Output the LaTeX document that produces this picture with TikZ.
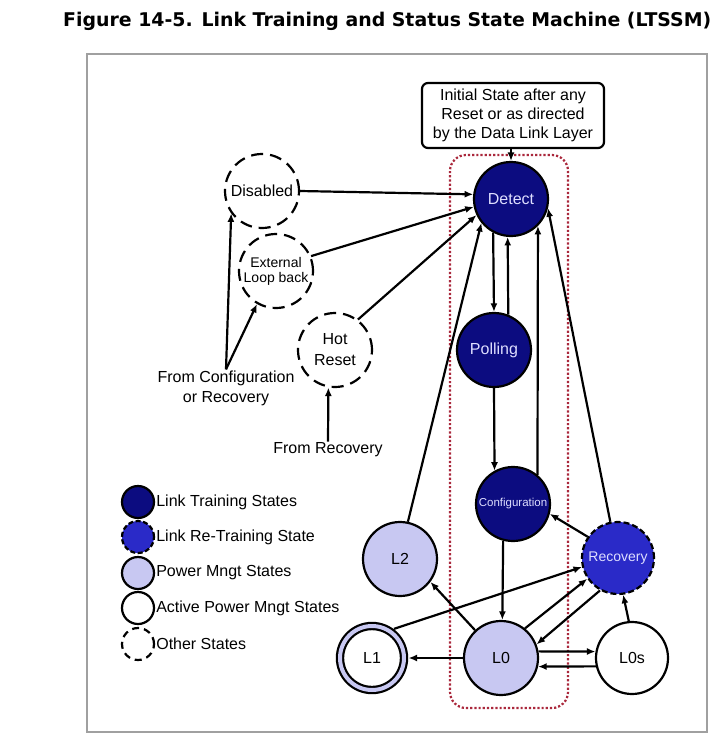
\documentclass[tikz,border=0pt]{standalone}
\usepackage{fontspec}
\setmainfont{Liberation Sans}
\newfontfamily\titlefont{DejaVu Sans}
\usetikzlibrary{arrows.meta}

\definecolor{trainblue}{RGB}{12,12,128}
\definecolor{retrainblue}{RGB}{42,42,200}
\definecolor{pmlav}{RGB}{200,200,242}
\definecolor{statetext}{RGB}{222,222,255}
\definecolor{boxred}{RGB}{170,40,60}
\definecolor{framegray}{RGB}{160,160,160}

\begin{document}
\begin{tikzpicture}[x=1pt, y=-1pt, >={Latex[length=8.5pt,width=7pt]},
    state/.style={circle, draw=black, line width=2.2pt, minimum size=74pt,
        inner sep=0pt, align=center, font=\fontsize{16}{19}\selectfont},
    train/.style={state, fill=trainblue, text=statetext},
    retrain/.style={state, fill=retrainblue, text=statetext, dash pattern=on 6pt off 3pt},
    pm/.style={state, fill=pmlav},
    active/.style={state, fill=white},
    other/.style={state, dash pattern=on 12pt off 7pt},
    arr/.style={->, line width=2.2pt},
    lbl/.style={align=center, inner sep=1pt, font=\fontsize{16}{20}\selectfont},
    legdot/.style={circle, draw=black, line width=2.2pt, minimum size=32pt, inner sep=0pt}
]
    \useasboundingbox (0,0) rectangle (723,744);

    % タイトルと枠
    \node[anchor=base west, inner sep=0pt, font=\titlefont\bfseries\fontsize{18.9}{21}\selectfont]
        (title) at (63,27) {Figure 14-5. Link Training and Status State Machine (LTSSM)};
    \draw[framegray, line width=1.8pt] (87,54) rectangle (707,732);

    % 点線の枠 (Detect ~ L0)
    \draw[boxred, line width=2.2pt, dash pattern=on 2.2pt off 2pt, rounded corners=16pt]
        (450,155) rectangle (568,708);

    % -------------------------------------------------------------
    % 状態
    % -------------------------------------------------------------
    \node[train] (detect) at (511,199) {Detect};
    \node[train] (polling) at (494,350) {Polling};
    \node[train, font=\fontsize{11.5}{14}\selectfont] (config) at (513,504) {Configuration};
    \node[retrain, minimum size=72pt, font=\fontsize{14}{16}\selectfont] (recovery) at (618,558) {Recovery};
    \node[pm] (l0) at (501,658) {L0};
    \node[pm] (l2) at (400,559) {L2};
    \node[active, double=pmlav, double distance=4pt, minimum size=64pt, outer sep=4.5pt]
        (l1) at (372,658) {L1};
    \node[active, minimum size=72pt] (l0s) at (632,658) {L0s};

    % その他の状態
    \node[other] (disabled) at (262,191) {Disabled};
    \node[other, font=\fontsize{14}{15}\selectfont] (extlb) at (276,271) {External\\Loop back};
    \node[other, font=\fontsize{16}{21}\selectfont] (hotreset) at (335,350) {Hot\\Reset};

    \node[draw, rounded corners=6pt, line width=2.2pt, lbl, font=\fontsize{16}{19}\selectfont,
        minimum width=182pt, minimum height=65pt] (init) at (513,115.5)
        {Initial State after any\\Reset or as directed\\by the Data Link Layer};
    \node[lbl] (fromcfg) at (226,388) {From Configuration\\or Recovery};
    \node[lbl] (fromrec) at (328,450) {From Recovery};

    % -------------------------------------------------------------
    % 遷移
    % -------------------------------------------------------------
    \draw[arr] (detect.north |- init.south) -- (detect.north);
    \draw[arr] (disabled.east) -- (detect.173);
    \draw[arr] (extlb.23) -- (detect.192);
    \draw[arr] (hotreset.53) -- (detect.205);
    \draw[arr] (fromcfg.north) -- (disabled.216);
    \draw[arr] (fromcfg.north) -- (extlb.240);
    \draw[arr] (fromrec.north) -- (hotreset.260);

    \draw[arr] (detect.242) -- (polling.north);
    \draw[arr] (polling.68) -- (detect.265);
    \draw[arr] (polling.south) -- (config.119);
    \draw[arr] (config.50) -- (detect.315);
    \draw[arr] (l2.78) -- (detect.219);
    \draw[arr] (recovery.102) -- (detect.346);
    \draw[arr] (recovery.145) -- (config.345);
    \draw[arr] (config.255) -- (l0.88);

    \draw[arr] (l0.133) -- (l2.323);
    \draw[arr] (l1.53) -- (recovery.194);
    \draw[arr] (l0.51) -- (recovery.214);
    \draw[arr] (recovery.241) -- (l0.21);
    \draw[arr] (l0.west) -- (l1.east);
    \draw[arr] (l0.10) -- (l0s.170);
    \draw[arr] (l0s.193) -- (l0.-13);
    \draw[arr] (l0s.95) -- (recovery.278);

    % -------------------------------------------------------------
    % 凡例
    % -------------------------------------------------------------
    \node[legdot, fill=trainblue] (legtrain) at (138,502) {};
    \node[lbl, anchor=west] (legtraintxt) at (legtrain.east) {Link Training States};
    \node[legdot, fill=retrainblue, dash pattern=on 5pt off 2.5pt] (legretrain) at (138,537) {};
    \node[lbl, anchor=west] (legretraintxt) at (legretrain.east) {Link Re-Training State};
    \node[legdot, fill=pmlav] (legpm) at (138,573) {};
    \node[lbl, anchor=west] (legpmtxt) at (legpm.east) {Power Mngt States};
    \node[legdot, fill=white] (legactive) at (138,608) {};
    \node[lbl, anchor=west] (legactivetxt) at (legactive.east) {Active Power Mngt States};
    \node[legdot, dash pattern=on 7pt off 5pt] (legother) at (138,644) {};
    \node[lbl, anchor=west] (legothertxt) at (legother.east) {Other States};

\end{tikzpicture}
\end{document}
